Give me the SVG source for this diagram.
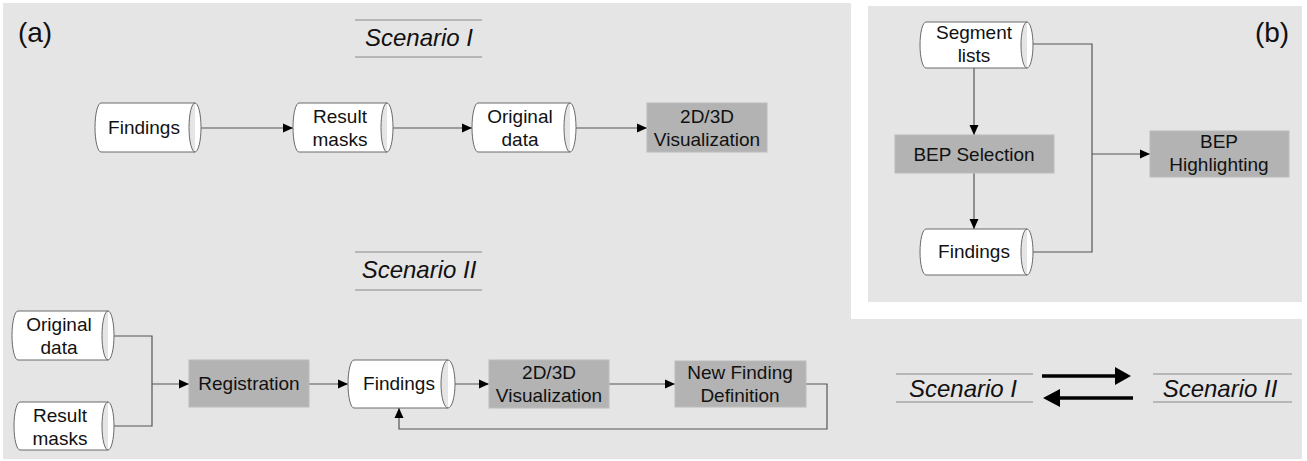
<svg xmlns="http://www.w3.org/2000/svg" width="1307" height="461" viewBox="0 0 1307 461">
<defs>
<style>
.panel{fill:#e5e5e5;stroke:none}
.cyl{fill:#fff;stroke:#6a6a6a;stroke-width:1}
.proc{fill:#b3b3b3;stroke:#bcbcbc;stroke-width:1}
.t{font-family:"Liberation Sans",Arial,sans-serif;font-size:19px;fill:#111;text-anchor:middle}
.title{font-family:"Liberation Sans",Arial,sans-serif;font-size:24px;font-style:italic;fill:#111;text-anchor:middle}
.lbl{font-family:"Liberation Sans",Arial,sans-serif;font-size:28px;fill:#111;text-anchor:middle}
.rule{stroke:#8a8a8a;stroke-width:1.2;fill:none}
.conn{stroke:#555;stroke-width:1.2;fill:none}
.big{stroke:#000;stroke-width:3.5;fill:none}
</style>
<marker id="ah" markerUnits="userSpaceOnUse" viewBox="0 0 10 10" refX="10" refY="5" markerWidth="10" markerHeight="10" orient="auto">
<path d="M0,0.5 L10,5 L0,9.5 z" fill="#000"/>
</marker>
</defs>

<g id="backgrounds">
<rect class="panel" x="3" y="3" width="848" height="456"/>
<rect class="panel" x="851" y="319" width="451" height="140"/>
<rect class="panel" x="868" y="6" width="434" height="296"/>
</g>

<g id="labels">
<text class="lbl" x="35" y="42">(a)</text>
<text class="lbl" x="1272" y="42">(b)</text>
</g>

<g id="title-s1">
<line class="rule" x1="355" y1="20" x2="482" y2="20"/>
<line class="rule" x1="355" y1="57" x2="482" y2="57"/>
<text class="title" x="419" y="46">Scenario I</text>
</g>
<g id="title-s2">
<line class="rule" x1="355" y1="252" x2="482" y2="252"/>
<line class="rule" x1="355" y1="290" x2="482" y2="290"/>
<text class="title" x="419" y="278">Scenario II</text>
</g>

<g id="connectors">
<line class="conn" x1="201" y1="128" x2="293" y2="128" marker-end="url(#ah)"/>
<line class="conn" x1="393" y1="128" x2="472" y2="128" marker-end="url(#ah)"/>
<line class="conn" x1="576" y1="128" x2="647" y2="128" marker-end="url(#ah)"/>
<polyline class="conn" points="114,336 152,336 152,426 114,426"/>
<line class="conn" x1="152" y1="384" x2="189" y2="384" marker-end="url(#ah)"/>
<line class="conn" x1="309" y1="384" x2="348" y2="384" marker-end="url(#ah)"/>
<line class="conn" x1="455" y1="384" x2="489" y2="384" marker-end="url(#ah)"/>
<line class="conn" x1="609" y1="384" x2="675" y2="384" marker-end="url(#ah)"/>
<polyline class="conn" points="806,384 827,384 827,429 399,429 399,408" marker-end="url(#ah)"/>
<line class="conn" x1="974" y1="68" x2="974" y2="135" marker-end="url(#ah)"/>
<line class="conn" x1="974" y1="173" x2="974" y2="229" marker-end="url(#ah)"/>
<polyline class="conn" points="1033,44 1092,44 1092,252 1033,252"/>
<line class="conn" x1="1092" y1="154" x2="1150" y2="154" marker-end="url(#ah)"/>
<line class="big" x1="1042" y1="376" x2="1118" y2="376"/>
<path d="M1115,367 L1131,376 L1115,385 z" fill="#000"/>
<line class="big" x1="1058" y1="398" x2="1133" y2="398"/>
<path d="M1060,389 L1043,398 L1060,407 z" fill="#000"/>
</g>

<g id="s1-findings">
<path class="cyl" d="M101,103 H195 A6,24.5 0 0 1 195,152 H101 A6,24.5 0 0 1 101,103 Z M195,103 A6,24.5 0 0 0 195,152"/>
<text class="t" x="144" y="134">Findings</text>
</g>
<g id="s1-result-masks">
<path class="cyl" d="M299,103 H387 A6,24.5 0 0 1 387,152 H299 A6,24.5 0 0 1 299,103 Z M387,103 A6,24.5 0 0 0 387,152"/>
<text class="t" x="340" y="123">Result</text>
<text class="t" x="340" y="146">masks</text>
</g>
<g id="s1-original-data">
<path class="cyl" d="M478,103 H570 A6,24.5 0 0 1 570,152 H478 A6,24.5 0 0 1 478,103 Z M570,103 A6,24.5 0 0 0 570,152"/>
<text class="t" x="520" y="123">Original</text>
<text class="t" x="520" y="146">data</text>
</g>
<g id="s1-visualization">
<rect class="proc" x="647" y="103" width="120" height="49"/>
<text class="t" x="707" y="123">2D/3D</text>
<text class="t" x="707" y="146">Visualization</text>
</g>

<g id="s2-original-data">
<path class="cyl" d="M18,311 H108 A6,24.5 0 0 1 108,360 H18 A6,24.5 0 0 1 18,311 Z M108,311 A6,24.5 0 0 0 108,360"/>
<text class="t" x="59" y="331">Original</text>
<text class="t" x="59" y="354">data</text>
</g>
<g id="s2-result-masks">
<path class="cyl" d="M20,402 H108 A6,24 0 0 1 108,450 H20 A6,24 0 0 1 20,402 Z M108,402 A6,24 0 0 0 108,450"/>
<text class="t" x="60" y="422">Result</text>
<text class="t" x="60" y="445">masks</text>
</g>
<g id="s2-registration">
<rect class="proc" x="189" y="360" width="120" height="47"/>
<text class="t" x="249" y="390">Registration</text>
</g>
<g id="s2-findings">
<path class="cyl" d="M354,360 H448 A7,24 0 0 1 448,408 H354 A6,24 0 0 1 354,360 Z M448,360 A7,24 0 0 0 448,408"/>
<text class="t" x="399" y="390">Findings</text>
</g>
<g id="s2-visualization">
<rect class="proc" x="489" y="360" width="120" height="48"/>
<text class="t" x="549" y="379">2D/3D</text>
<text class="t" x="549" y="402">Visualization</text>
</g>
<g id="s2-new-finding">
<rect class="proc" x="675" y="361" width="131" height="46"/>
<text class="t" x="740" y="379">New Finding</text>
<text class="t" x="740" y="402">Definition</text>
</g>

<g id="b-segment-lists">
<path class="cyl" d="M926,22 H1027 A6,23 0 0 1 1027,68 H926 A6,23 0 0 1 926,22 Z M1027,22 A6,23 0 0 0 1027,68"/>
<text class="t" x="974" y="39">Segment</text>
<text class="t" x="974" y="62">lists</text>
</g>
<g id="b-bep-selection">
<rect class="proc" x="895" y="135" width="159" height="38"/>
<text class="t" x="974" y="161">BEP Selection</text>
</g>
<g id="b-findings">
<path class="cyl" d="M926,229 H1027 A6,23 0 0 1 1027,275 H926 A6,23 0 0 1 926,229 Z M1027,229 A6,23 0 0 0 1027,275"/>
<text class="t" x="974" y="258">Findings</text>
</g>
<g id="b-bep-highlighting">
<rect class="proc" x="1150" y="131" width="139" height="46"/>
<text class="t" x="1219" y="148">BEP</text>
<text class="t" x="1219" y="171">Highlighting</text>
</g>

<g id="legend">
<line class="rule" x1="896" y1="374" x2="1033" y2="374"/>
<line class="rule" x1="896" y1="402" x2="1033" y2="402"/>
<text class="title" x="963" y="397">Scenario I</text>
<line class="rule" x1="1153" y1="374" x2="1292" y2="374"/>
<line class="rule" x1="1153" y1="402" x2="1292" y2="402"/>
<text class="title" x="1220" y="397">Scenario II</text>
</g>
</svg>
